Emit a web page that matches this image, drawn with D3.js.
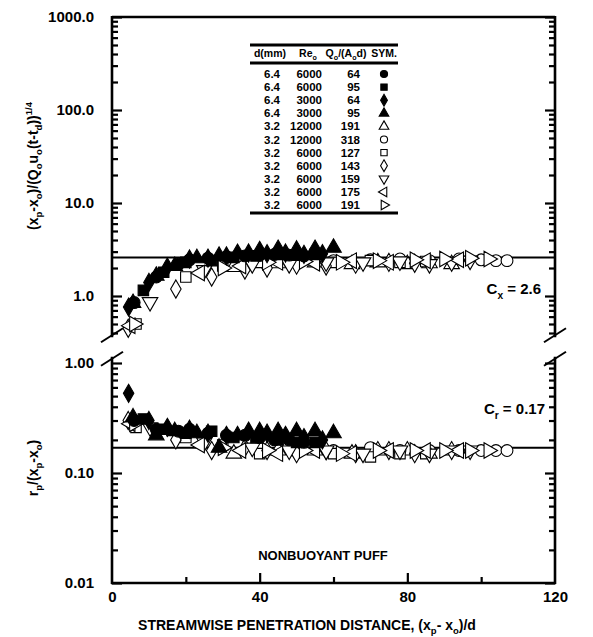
<!DOCTYPE html>
<html>
<head>
<meta charset="utf-8">
<script src="https://cdn.jsdelivr.net/npm/d3@7"></script>
<style>
  body { margin: 0; background: #fff; }
  svg text { font-family: "Liberation Sans", Arial, sans-serif; font-weight: bold; fill: #000; }
</style>
</head>
<body>
<div id="chart"></div>
<script>
// ---- data ----
var xTicks = [0, 40, 80, 120];
var xMinor = [20, 60, 100];
var upTicks = [1, 10, 100, 1000];
var upLabels = ["1.0", "10.0", "100.0", "1000.0"];
var loTicks = [0.01, 0.1, 1];
var loLabels = ["0.01", "0.10", "1.00"];
var Cx = 2.6;
var Cr = 0.17;

// legend table
var legD  = ["6.4", "6.4", "6.4", "6.4", "3.2", "3.2", "3.2", "3.2", "3.2", "3.2", "3.2"];
var legRe = ["6000", "6000", "3000", "3000", "12000", "12000", "6000", "6000", "6000", "6000", "6000"];
var legQ  = ["64", "95", "64", "95", "191", "318", "127", "143", "159", "175", "191"];

// d=6.4, Re=6000, Q=64 (filled circle)
var xCirF  = [6, 12, 18, 21, 26, 31, 36, 40, 44, 48, 52];
var upCirF = [0.85, 1.6, 2.2, 2.45, 2.55, 2.65, 2.7, 2.75, 2.8, 2.75, 2.7];
var loCirF = [0.3, 0.25, 0.24, 0.25, 0.23, 0.22, 0.22, 0.21, 0.2, 0.2, 0.19];
// d=6.4, Re=6000, Q=95 (filled square)
var xSqF  = [8.5, 14, 20, 27, 33, 39, 45, 50, 55];
var upSqF = [1.15, 1.8, 2.3, 2.4, 2.6, 2.7, 2.8, 2.75, 2.8];
var loSqF = [0.31, 0.25, 0.23, 0.24, 0.21, 0.21, 0.2, 0.19, 0.19];
// d=6.4, Re=3000, Q=64 (filled diamond)
var xDiF  = [4.5, 10, 15, 21, 26, 31, 37, 42, 47, 52, 57];
var upDiF = [0.76, 1.4, 2.05, 2.5, 2.55, 2.7, 2.9, 2.85, 2.9, 2.8, 2.85];
var loDiF = [0.53, 0.3, 0.26, 0.25, 0.23, 0.22, 0.24, 0.23, 0.22, 0.21, 0.2];
// d=6.4, Re=3000, Q=95 (filled triangle)
var xTrF  = [5.7, 12, 17, 23, 29, 34, 40, 45, 50, 55, 60];
var upTrF = [0.84, 1.65, 2.1, 2.55, 2.7, 2.9, 3.1, 3.2, 3.15, 3.2, 3.3];
var loTrF = [0.32, 0.22, 0.24, 0.23, 0.17, 0.22, 0.24, 0.24, 0.24, 0.24, 0.23];
// d=3.2, Re=12000, Q=191 (open triangle)
var xTrO  = [33, 45, 55, 65, 72, 80, 86, 92];
var upTrO = [2.05, 2.25, 2.3, 2.2, 2.3, 2.2, 2.25, 2.2];
var loTrO = [0.15, 0.16, 0.16, 0.15, 0.16, 0.16, 0.15, 0.16];
// d=3.2, Re=12000, Q=318 (open circle)
var xCirO  = [40, 50, 60, 70, 78, 86, 94, 100, 104, 107];
var upCirO = [2.4, 2.5, 2.4, 2.45, 2.5, 2.4, 2.5, 2.45, 2.4, 2.4];
var loCirO = [0.17, 0.16, 0.16, 0.17, 0.16, 0.16, 0.16, 0.16, 0.16, 0.16];
// d=3.2, Re=6000, Q=127 (open square)
var xSqO  = [6.5, 20, 30, 40, 50, 60, 70, 78, 85];
var upSqO = [0.5, 1.6, 2.1, 2.3, 2.35, 2.3, 2.4, 2.3, 2.35];
var loSqO = [0.26, 0.21, 0.18, 0.15, 0.16, 0.15, 0.14, 0.15, 0.15];
// d=3.2, Re=6000, Q=143 (open diamond)
var xDiO  = [4.4, 17.3, 27, 36, 42, 50, 58, 66, 75, 82];
var upDiO = [0.45, 1.19, 1.6, 1.9, 2.0, 2.15, 2.1, 2.2, 2.3, 2.25];
var loDiO = [0.3, 0.2, 0.16, 0.17, 0.16, 0.15, 0.16, 0.15, 0.16, 0.15];
// d=3.2, Re=6000, Q=159 (open down triangle)
var xDnO  = [10.3, 25, 38, 48, 58, 68, 78, 86, 92, 97];
var upDnO = [0.86, 1.9, 2.2, 2.2, 2.3, 2.3, 2.35, 2.2, 2.3, 2.4];
var loDnO = [0.26, 0.19, 0.17, 0.16, 0.16, 0.15, 0.16, 0.15, 0.16, 0.16];
// d=3.2, Re=6000, Q=175 (open left triangle)
var xLtO  = [5, 23.8, 35, 45, 55, 65, 75, 85, 94];
var upLtO = [0.48, 1.77, 2.1, 2.3, 2.25, 2.4, 2.3, 2.4, 2.45];
var loLtO = [0.28, 0.18, 0.16, 0.15, 0.16, 0.15, 0.16, 0.16, 0.16];
// d=3.2, Re=6000, Q=191 (open right triangle)
var xRtO  = [6, 30, 42, 52, 62, 72, 82, 90, 97, 102];
var upRtO = [0.5, 2.0, 2.3, 2.35, 2.3, 2.4, 2.45, 2.5, 2.55, 2.5];
var loRtO = [0.28, 0.17, 0.16, 0.16, 0.15, 0.16, 0.16, 0.16, 0.16, 0.16];

var series = [
  {type: d3.symbolCircle,   rot: 0,   fill: true,  x: xCirF, up: upCirF, lo: loCirF},
  {type: d3.symbolSquare,   rot: 0,   fill: true,  x: xSqF,  up: upSqF,  lo: loSqF},
  {type: d3.symbolDiamond,  rot: 0,   fill: true,  x: xDiF,  up: upDiF,  lo: loDiF},
  {type: d3.symbolTriangle, rot: 0,   fill: true,  x: xTrF,  up: upTrF,  lo: loTrF},
  {type: d3.symbolTriangle, rot: 0,   fill: false, x: xTrO,  up: upTrO,  lo: loTrO},
  {type: d3.symbolCircle,   rot: 0,   fill: false, x: xCirO, up: upCirO, lo: loCirO},
  {type: d3.symbolSquare,   rot: 0,   fill: false, x: xSqO,  up: upSqO,  lo: loSqO},
  {type: d3.symbolDiamond,  rot: 0,   fill: false, x: xDiO,  up: upDiO,  lo: loDiO},
  {type: d3.symbolTriangle, rot: 180, fill: false, x: xDnO,  up: upDnO,  lo: loDnO},
  {type: d3.symbolTriangle, rot: -90, fill: false, x: xLtO,  up: upLtO,  lo: loLtO},
  {type: d3.symbolTriangle, rot: 90,  fill: false, x: xRtO,  up: upRtO,  lo: loRtO}
];

// ---- layout ----
var W = 593, H = 637;
var x0 = 112, x1 = 555;
var x = d3.scaleLinear().domain([0, 120]).range([x0, x1]);
var yU = d3.scaleLog().domain([1, 1000]).range([296, 17]);
var yL = d3.scaleLog().domain([0.01, 1]).range([583, 363]);
var upBottom = yU(0.36), loTop = yL(1.14);

var svg = d3.select("#chart").append("svg").attr("width", W).attr("height", H);

function rich(sel, parts, fs) {
  var cur = 0;
  parts.forEach(function(p) {
    var k = p[1] || "n";
    var target = k == "sub" ? fs * 0.32 : (k == "sup" ? -fs * 0.42 : 0);
    sel.append("tspan").attr("dy", target - cur)
      .attr("font-size", k == "n" ? fs : fs * 0.68).text(p[0]);
    cur = target;
  });
}

function minorLog(lo, hi) {
  var out = [];
  for (var d = lo; d < hi; d *= 10) {
    for (var m = 2; m < 10; m++) out.push(+(d * m).toPrecision(3));
  }
  return out;
}

// frame lines
var frame = svg.append("g").attr("stroke", "#000").attr("stroke-width", 2.6).attr("fill", "none");
frame.append("line").attr("x1", x0).attr("x2", x1).attr("y1", yU(1000)).attr("y2", yU(1000));
frame.append("line").attr("x1", x0).attr("x2", x0).attr("y1", yU(1000) - 1).attr("y2", upBottom);
frame.append("line").attr("x1", x1).attr("x2", x1).attr("y1", yU(1000) - 1).attr("y2", upBottom);
frame.append("line").attr("x1", x0).attr("x2", x0).attr("y1", loTop).attr("y2", yL(0.01) + 1);
frame.append("line").attr("x1", x1).attr("x2", x1).attr("y1", loTop).attr("y2", yL(0.01) + 1);
frame.append("line").attr("x1", x0 - 1).attr("x2", x1 + 1).attr("y1", yL(0.01)).attr("y2", yL(0.01));

// break slashes
[x0, x1].forEach(function(xx) {
  [upBottom - 2, loTop + 2].forEach(function(yy) {
    frame.append("line").attr("stroke-width", 2)
      .attr("x1", xx - 11).attr("y1", yy + 7).attr("x2", xx + 11).attr("y2", yy - 7);
  });
});

// ticks (inward)
function yTicks(scale, major, minor, labels) {
  var left = svg.append("g").attr("transform", "translate(" + x0 + ",0)");
  left.call(d3.axisLeft(scale).tickValues(major).tickSize(-10).tickPadding(18)
    .tickFormat(function(d, i) { return labels[i]; }));
  left.append("g").call(d3.axisLeft(scale).tickValues(minor).tickSize(-6).tickFormat(""));
  var right = svg.append("g").attr("transform", "translate(" + x1 + ",0)");
  right.call(d3.axisRight(scale).tickValues(major).tickSize(-10).tickFormat(""));
  right.append("g").call(d3.axisRight(scale).tickValues(minor).tickSize(-6).tickFormat(""));
}
yTicks(yU, upTicks, minorLog(1, 1000), upLabels);
yTicks(yL, loTicks, minorLog(0.01, 1), loLabels);
// minor ticks in the stub of the upper panel below 1.0
var stub = [0.4, 0.5, 0.6, 0.7, 0.8, 0.9];
svg.append("g").attr("transform", "translate(" + x0 + ",0)")
  .call(d3.axisLeft(yU).tickValues(stub).tickSize(-6).tickFormat(""));
svg.append("g").attr("transform", "translate(" + x1 + ",0)")
  .call(d3.axisRight(yU).tickValues(stub).tickSize(-6).tickFormat(""));

var xa = svg.append("g").attr("transform", "translate(0," + yL(0.01) + ")");
xa.call(d3.axisBottom(x).tickValues(xTicks).tickSize(0).tickPadding(8).tickFormat(d3.format("d")));
xa.append("g").call(d3.axisTop(x).tickValues(xTicks.slice(1, 3)).tickSize(10).tickFormat(""));
xa.append("g").call(d3.axisTop(x).tickValues(xMinor).tickSize(6).tickFormat(""));

svg.selectAll(".domain").remove();
svg.selectAll(".tick line").attr("stroke", "#000").attr("stroke-width", 2.2);
svg.selectAll(".tick text").attr("font-size", 15).attr("font-family", "Liberation Sans, Arial, sans-serif")
  .attr("font-weight", "bold").attr("fill", "#000");

// reference lines
svg.append("line").attr("x1", x0).attr("x2", x1).attr("y1", yU(Cx)).attr("y2", yU(Cx))
  .attr("stroke", "#000").attr("stroke-width", 2);
svg.append("line").attr("x1", x0).attr("x2", x1).attr("y1", yL(Cr)).attr("y2", yL(Cr))
  .attr("stroke", "#000").attr("stroke-width", 2);

// markers
function marker(g, s, cx, cy, size) {
  g.append("path")
    .attr("d", d3.symbol().type(s.type).size(size)())
    .attr("transform", "translate(" + cx + "," + cy + ") rotate(" + s.rot + ")")
    .attr("fill", s.fill ? "#000" : "#fff")
    .attr("stroke", "#000").attr("stroke-width", 1.1);
}
var pts = svg.append("g");
var order = series.filter(function(s) { return !s.fill; }).concat(series.filter(function(s) { return s.fill; }));
order.forEach(function(s) {
  var sz = s.type == d3.symbolTriangle ? 105 : (s.type == d3.symbolDiamond ? 95 : 110);
  s.x.forEach(function(xv, i) {
    marker(pts, s, x(xv), yU(s.up[i]), sz);
    marker(pts, s, x(xv), yL(s.lo[i]), sz);
  });
});

// annotations
var t1 = svg.append("text").attr("x", 541).attr("y", 294).attr("text-anchor", "end");
rich(t1, [["C"], ["x", "sub"], [" = 2.6"]], 15);
var t2 = svg.append("text").attr("x", 545).attr("y", 414).attr("text-anchor", "end");
rich(t2, [["C"], ["r", "sub"], [" = 0.17"]], 15);
svg.append("text").attr("x", 323).attr("y", 560).attr("text-anchor", "middle")
  .attr("font-size", 13).text("NONBUOYANT PUFF");

// axis titles
var xt = svg.append("text").attr("x", 307).attr("y", 630).attr("text-anchor", "middle");
rich(xt, [["STREAMWISE PENETRATION DISTANCE, (x"], ["p", "sub"], ["- x"], ["o", "sub"], [")/d"]], 14);
var yt1 = svg.append("text").attr("transform", "translate(38,166) rotate(-90)").attr("text-anchor", "middle");
rich(yt1, [["(x"], ["p", "sub"], ["-x"], ["o", "sub"], [")/(Q"], ["o", "sub"], ["u"], ["o", "sub"], ["(t-t"], ["d", "sub"], ["))"], ["1/4", "sup"]], 14);
var yt2 = svg.append("text").attr("transform", "translate(38,468) rotate(-90)").attr("text-anchor", "middle");
rich(yt2, [["r"], ["p", "sub"], ["/(x"], ["p", "sub"], ["-x"], ["o", "sub"], [")"]], 14);

// legend table
var lg = svg.append("g");
var lx0 = 250, lx1 = 398, rowY0 = 74, rowH = 13.1;
[45, 63, 213].forEach(function(yy) {
  lg.append("line").attr("x1", lx0).attr("x2", lx1).attr("y1", yy).attr("y2", yy)
    .attr("stroke", "#000").attr("stroke-width", 3);
});
var hY = 57, hfs = 10.5;
lg.append("text").attr("x", 270).attr("y", hY).attr("text-anchor", "middle").attr("font-size", hfs).text("d(mm)");
var hRe = lg.append("text").attr("x", 308).attr("y", hY).attr("text-anchor", "middle");
rich(hRe, [["Re"], ["o", "sub"]], hfs);
var hQ = lg.append("text").attr("x", 346).attr("y", hY).attr("text-anchor", "middle");
rich(hQ, [["Q"], ["o", "sub"], ["/(A"], ["o", "sub"], ["d)"]], hfs);
lg.append("text").attr("x", 384).attr("y", hY).attr("text-anchor", "middle").attr("font-size", hfs).text("SYM.");
legD.forEach(function(d, i) {
  var yy = rowY0 + i * rowH;
  lg.append("text").attr("x", 272).attr("y", yy + 4).attr("text-anchor", "middle").attr("font-size", 11.5).text(d);
  lg.append("text").attr("x", 322).attr("y", yy + 4).attr("text-anchor", "end").attr("font-size", 11.5).text(legRe[i]);
  lg.append("text").attr("x", 360).attr("y", yy + 4).attr("text-anchor", "end").attr("font-size", 11.5).text(legQ[i]);
  marker(lg, series[i], 384, yy, 40);
});
</script>
</body>
</html>
